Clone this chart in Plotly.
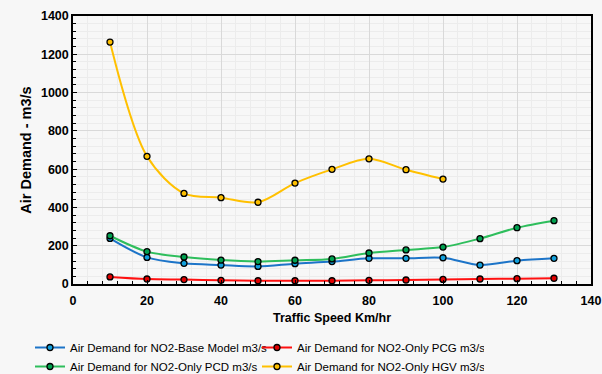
import plotly.graph_objects as go

speed = [10, 20, 30, 40, 50, 60, 70, 80, 90, 100, 110, 120, 130]
speed_hgv = [10, 20, 30, 40, 50, 60, 70, 80, 90, 100]

base_model = [238, 139, 108, 99, 92, 106, 117, 134, 134, 137, 99, 122, 134]
only_pcg = [37, 26, 23, 19, 17, 17, 17, 19, 21, 24, 26, 28, 30]
only_pcd = [252, 169, 141, 125, 117, 124, 131, 162, 178, 193, 237, 294, 331]
only_hgv = [1264, 667, 473, 451, 427, 527, 599, 654, 597, 548]

names = [
    "Air Demand for NO2-Base Model m3/s",
    "Air Demand for NO2-Only PCG m3/s",
    "Air Demand for NO2-Only PCD m3/s",
    "Air Demand for NO2-Only HGV m3/s",
]
line_colors = ["#1C74C8", "#FF1010", "#2EBE5C", "#FFC000"]
marker_colors = ["#12A0DC", "#E00000", "#00A050", "#FFC000"]
xs = [speed, speed, speed, speed_hgv]
ys = [base_model, only_pcg, only_pcd, only_hgv]

fig = go.Figure()
for n, lc, mc, x, y in zip(names, line_colors, marker_colors, xs, ys):
    fig.add_trace(go.Scatter(
        x=x, y=y, name=n, mode="lines+markers",
        line=dict(color=lc, width=2, shape="spline", smoothing=0.9),
        marker=dict(color=mc, size=6, line=dict(color="#000000", width=1.3)),
    ))

axis_common = dict(
    showline=True, linecolor="#000000", linewidth=1.5, mirror=True,
    ticks="inside", ticklen=4, tickcolor="#000000",
    showgrid=True, gridcolor="#d9d9d9", gridwidth=1,
    zeroline=False, automargin=False,
    tickfont=dict(family="Liberation Sans, Arial", size=12.5, color="#000000", weight="bold"),
)

fig.update_xaxes(
    range=[0, 140], dtick=20, tick0=0, ticklabelstandoff=4,
    minor=dict(dtick=4, showgrid=True, gridcolor="#ececec", ticks="inside", ticklen=3, tickcolor="#000000"),
    title=dict(text="Traffic Speed Km/hr", font=dict(family="Liberation Sans, Arial", size=12.5, color="#000000", weight="bold"), standoff=6),
    **axis_common,
)
fig.update_yaxes(
    range=[0, 1400], dtick=200, tick0=0,
    minor=dict(dtick=40, showgrid=True, gridcolor="#ececec", ticks="inside", ticklen=3, tickcolor="#000000"),
    title=dict(text="Air Demand - m3/s", font=dict(family="Liberation Sans, Arial", size=14.5, color="#000000", weight="bold"), standoff=6),
    **axis_common,
)

fig.update_layout(
    width=602, height=374,
    margin=dict(l=73, r=11, t=16, b=90, autoexpand=False),
    paper_bgcolor="#f7f7f7",
    plot_bgcolor="#f7f7f7",
    font=dict(family="Liberation Sans, Arial", color="#000000"),
    legend=dict(
        orientation="h",
        xref="container", yref="container",
        x=30 / 602, xanchor="left",
        y=1 - 333 / 374, yanchor="top",
        entrywidth=182, entrywidthmode="pixels",
        font=dict(size=11.5, color="#000000"),
        bgcolor="rgba(0,0,0,0)",
        tracegroupgap=0,
        itemwidth=30,
    ),
    showlegend=True,
)

fig.write_html(
    "out.html",
    config={"displayModeBar": False},
    post_script="document.body.style.margin='0';document.body.style.background='#f7f7f7';",
)
